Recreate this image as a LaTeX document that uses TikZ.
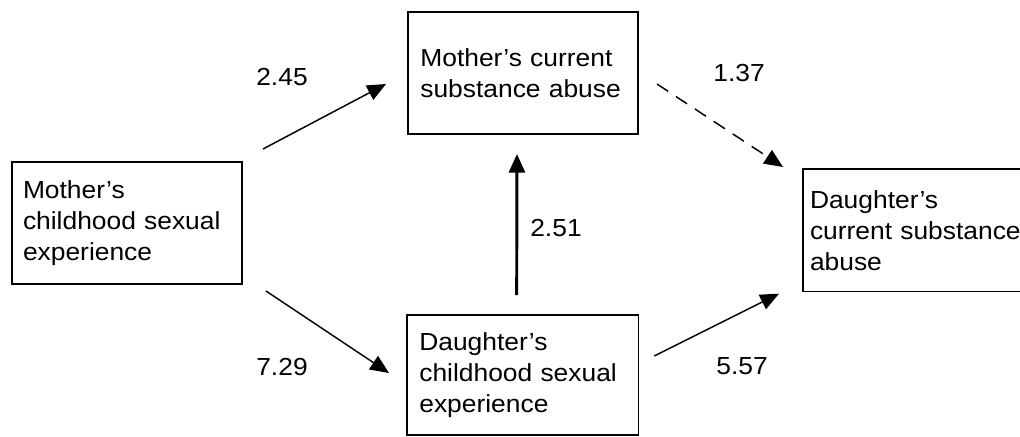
\documentclass[tikz,border=0pt]{standalone}
\usepackage{fontspec}
\setmainfont[FakeStretch=1.07]{Liberation Sans}
\usepackage{tikz}
\usetikzlibrary{positioning}
\usetikzlibrary{calc}
\usetikzlibrary{arrows.meta}

\begin{document}
\begin{tikzpicture}[x=0.75pt, y=-0.75pt,
	box/.style={draw, line width=1.1pt, anchor=north west, align=left, outer sep=0pt,
		font=\fontsize{18.5}{23.3}\selectfont, inner ysep=0pt},
	path/.style={line width=1.1pt, -{Triangle[length=14pt, width=12pt]}},
	coef/.style={font=\fontsize{18.5}{22}\selectfont, inner sep=0pt}]
	    		\useasboundingbox (0,0) rectangle (1020,436);
	    		\clip (0,0) rectangle (1020,436);
	    		\node[box, text width=156pt, inner xsep=8.25pt, minimum height=91.5pt] (mcse) at (12,162) {Mother's\\childhood sexual\\experience};
	    		\node[box, text width=154pt, inner xsep=9.25pt, minimum height=91.5pt] (mcsa) at (408,12) {Mother's current\\substance abuse};
	    		\node[box, text width=155pt, inner xsep=9.25pt, minimum height=90pt] (dcse) at (407,315) {Daughter's\\childhood sexual\\experience};
	    		\node[box, text width=190pt, inner xsep=5.25pt, minimum height=92pt] (dcsa) at (803,169) {Daughter's\\current substance\\abuse};
	    		\draw[path] ($(mcse.north east)+(21,-13)$) -- ($(mcsa.west)+(-22,11)$);
	    		\draw[path] ($(mcse.south east)+(24,7)$) -- ($(dcse.west)+(-18,-2)$);
	    		\draw[path, line width=2.2pt] ($(dcse.north)+(-6,-20)$) -- ($(mcsa.south)+(-6,20)$);
	    		\draw[path, dash pattern=on 10pt off 7pt] ($(mcsa.east)+(19,11)$) -- ($(dcsa.north west)+(-20,-2)$);
	    		\draw[path] ($(dcse.east)+(16,-19)$) -- ($(dcsa.south west)+(-24,2)$);
	    		\node[coef] (b1) at (282,77) {2.45};
	    		\node[coef] (b2) at (282,367) {7.29};
	    		\node[coef] (b3) at (556,228) {2.51};
	    		\node[coef] (b4) at (739,73) {1.37};
	    		\node[coef] (b5) at (742,366) {5.57};
			\end{tikzpicture}
\end{document}
